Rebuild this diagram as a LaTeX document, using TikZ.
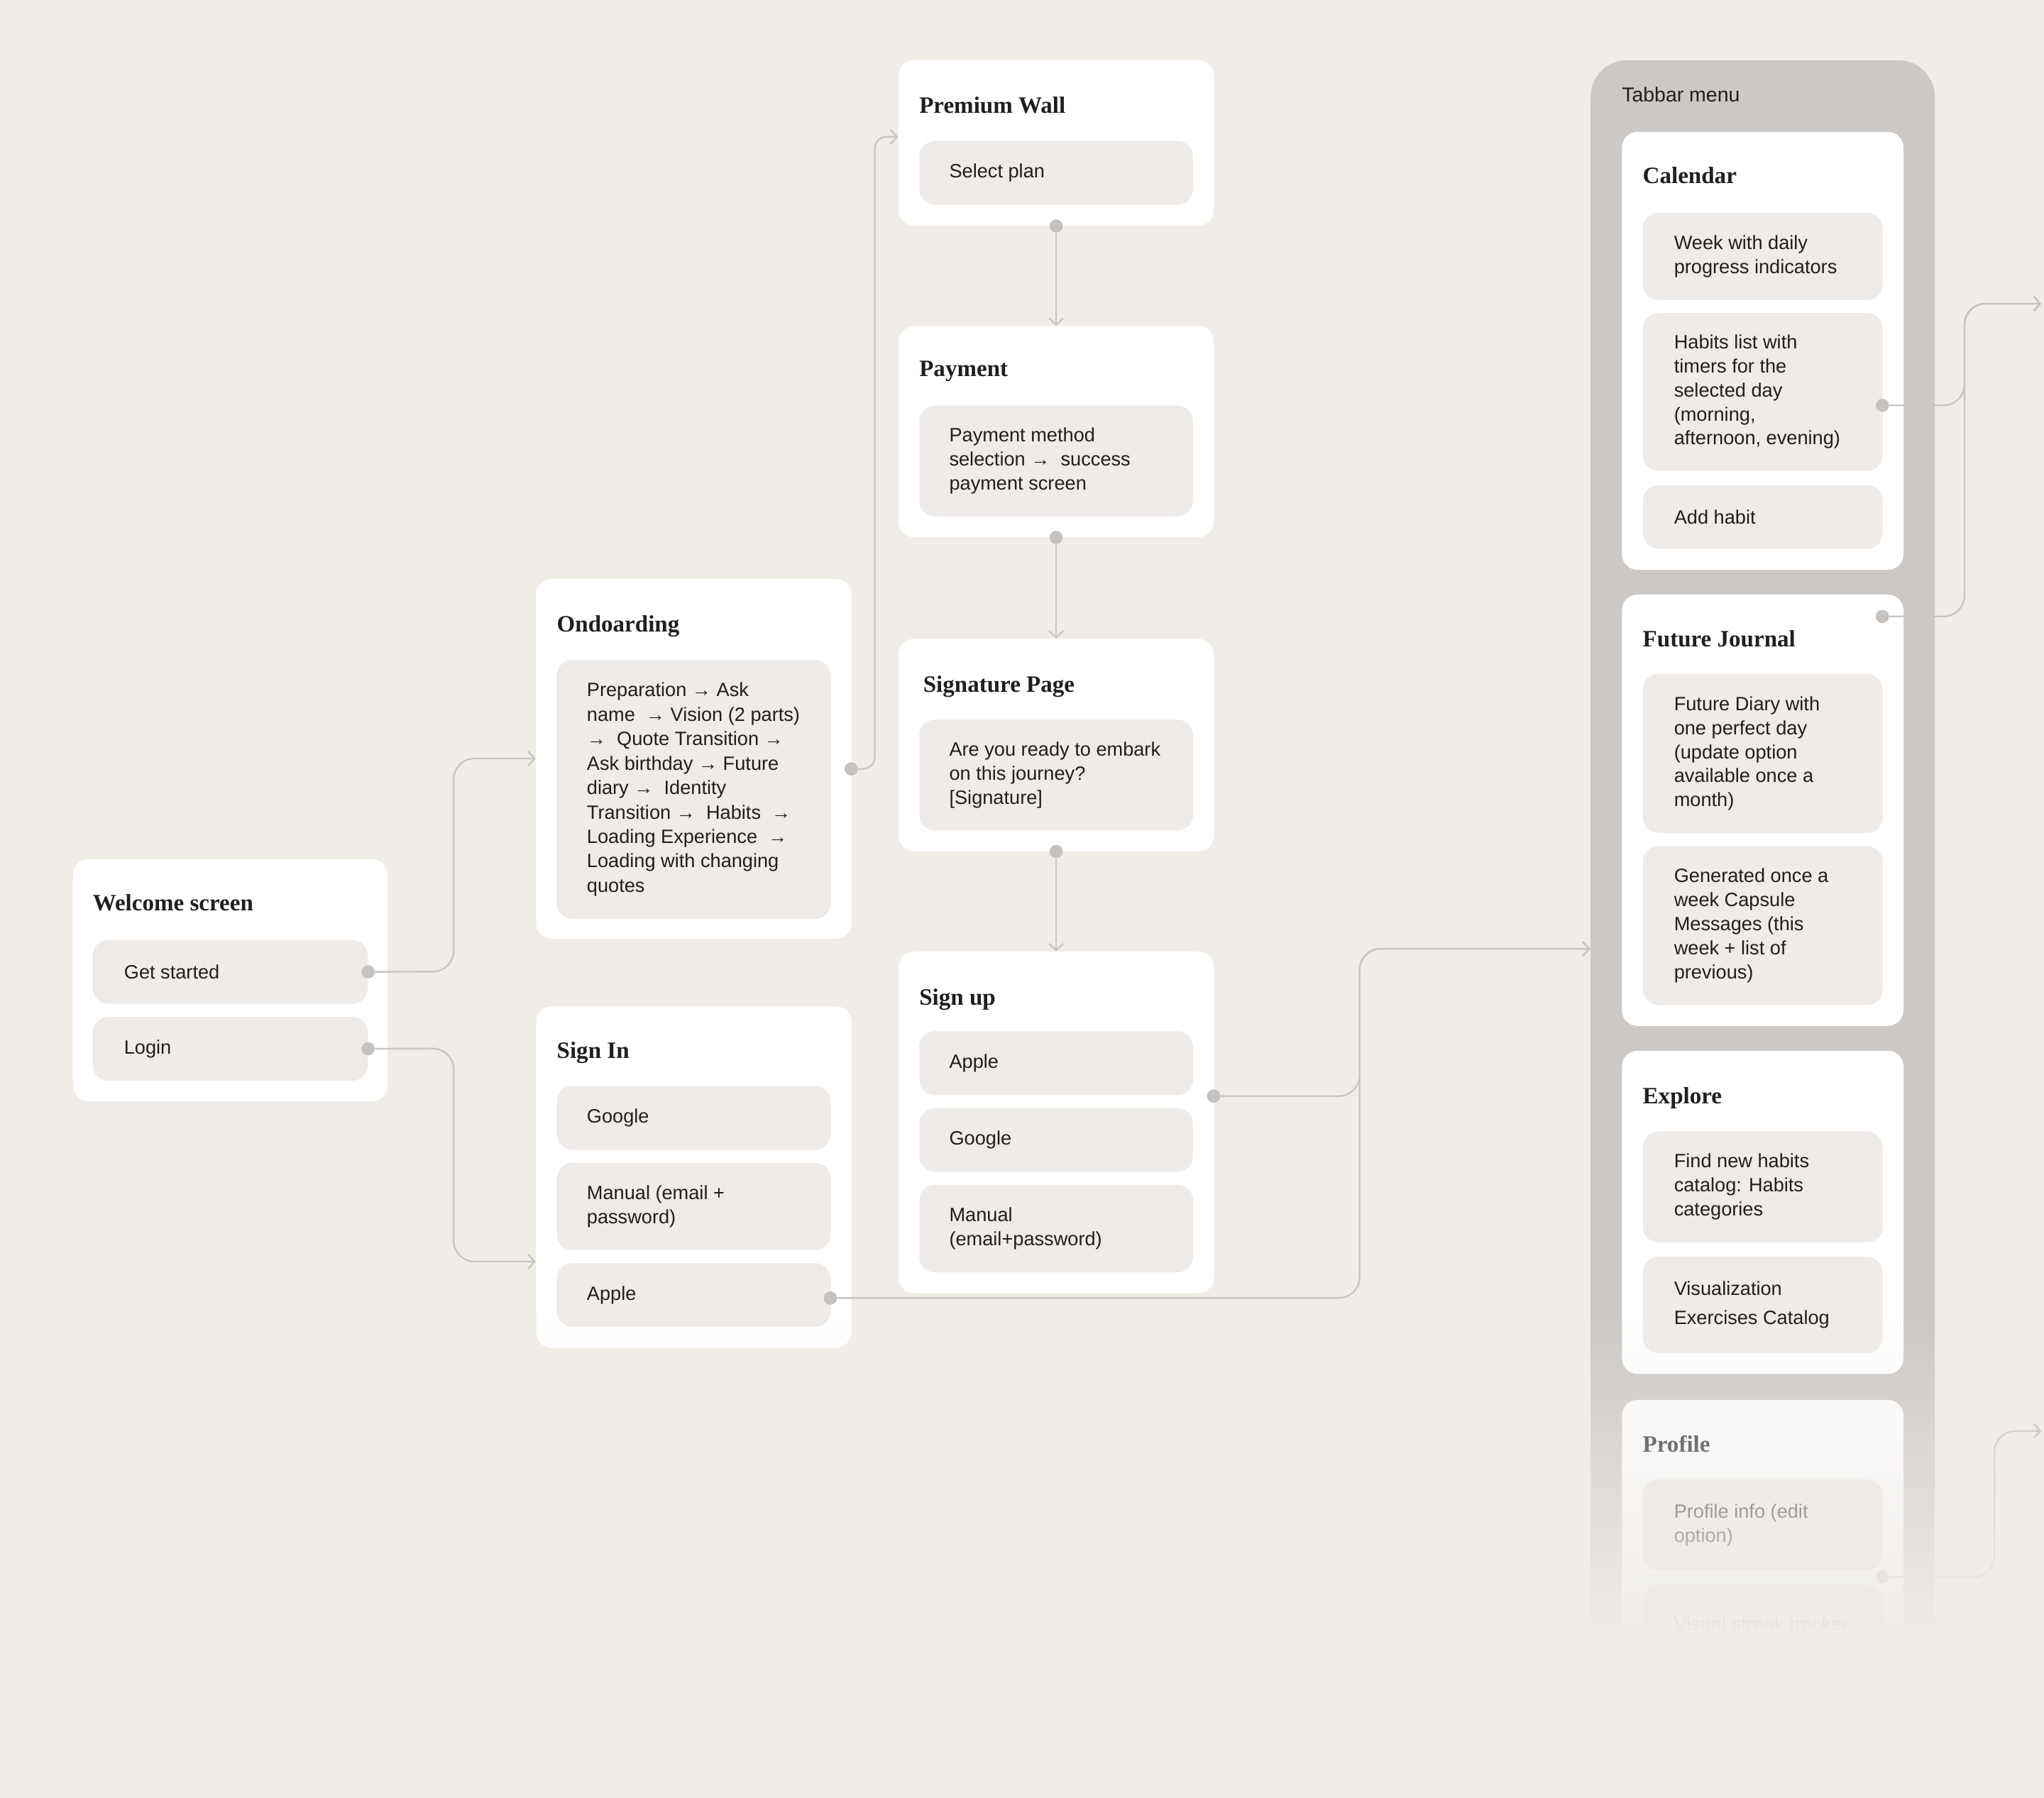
\documentclass[tikz,border=0pt]{standalone}
\usepackage{fontspec}
\setmainfont{Liberation Serif}
\newfontfamily\bodyfont{Liberation Sans}
\usetikzlibrary{arrows.meta,fadings}
\definecolor{bgc}{HTML}{F0EDE9}
\definecolor{itemc}{HTML}{EFEBE8}
\definecolor{tabc}{HTML}{CCC8C6}
\definecolor{linec}{HTML}{C9C5C2}
\definecolor{dotc}{HTML}{C6C2BF}
\definecolor{inkc}{HTML}{1F1F1F}
\begin{document}
\begin{tikzpicture}[x=1pt,y=-1pt,
  card/.style={fill=white, rounded corners=12pt, anchor=north west, inner sep=0pt},
  tabbox/.style={fill=tabc, rounded corners=28pt, anchor=north west, inner sep=0pt},
  itembox/.style={fill=itemc, rounded corners=12pt, anchor=north west, inner sep=0pt},
  head/.style={font=\fontsize{18}{20}\selectfont\bfseries, text=inkc, anchor=base west, inner sep=0pt},
  tabhead/.style={font=\bodyfont\fontsize{15.5}{18}\selectfont, text=inkc, anchor=base west, inner sep=0pt},
  txt/.style={font=\bodyfont\fontsize{14.8}{18.4}\selectfont, text=inkc, anchor=west, align=left, inner sep=0pt},
  dotn/.style={circle, fill=dotc, minimum size=10pt, inner sep=0pt},
  conn/.style={draw=linec, line width=1.3pt, rounded corners=16pt},
  arr/.style={-{Straight Barb[length=5pt,width=11pt]}}
]
\useasboundingbox (0,0) rectangle (1568,1379.6);
\fill[bgc] (0,0) rectangle (1568,1379.6);

% ---------- tabbar container ----------
\node[tabbox, minimum width=264pt, minimum height=1300pt] (tabbar) at (1220,46) {};
\node[tabhead] (tabtitle) at (1244,78) {Tabbar menu};

% ---------- cards ----------
\node[card, minimum width=241pt, minimum height=186pt] (welcome) at (56,659) {};
\node[card, minimum width=242pt, minimum height=276pt] (onb) at (411,444) {};
\node[card, minimum width=242pt, minimum height=262pt] (signin) at (411,772) {};
\node[card, minimum width=242pt, minimum height=127pt] (prem) at (689,46) {};
\node[card, minimum width=242pt, minimum height=162pt] (pay) at (689,250) {};
\node[card, minimum width=242pt, minimum height=163pt] (sign) at (689,490) {};
\node[card, minimum width=242pt, minimum height=262pt] (signup) at (689,730) {};
\node[card, minimum width=216pt, minimum height=336pt] (cal) at (1244,101) {};
\node[card, minimum width=216pt, minimum height=331pt] (fj) at (1244,456) {};
\node[card, minimum width=216pt, minimum height=248pt] (exp) at (1244,806) {};
\node[card, minimum width=216pt, minimum height=260pt] (prof) at (1244,1074) {};

% ---------- headings ----------
\node[head] (welcomeT) at (71,699) {Welcome screen};
\node[head] (onbT) at (427,485) {Ondoarding};
\node[head] (signinT) at (427,812) {Sign In};
\node[head] (premT) at (705,87) {Premium Wall};
\node[head] (payT) at (705,289) {Payment};
\node[head] (signT) at (708,531) {Signature Page};
\node[head] (signupT) at (705,771) {Sign up};
\node[head] (calT) at (1260,141) {Calendar};
\node[head] (fjT) at (1260,496) {Future Journal};
\node[head] (expT) at (1260,847) {Explore};
\node[head] (profT) at (1260,1114) {Profile};

% ---------- items ----------
\node[itembox, minimum width=211pt, minimum height=49pt] (gs) at (71,721) {};
\node[txt] at ([xshift=24pt]gs.west) {Get started};
\node[itembox, minimum width=211pt, minimum height=49pt] (login) at (71,780) {};
\node[txt] at ([xshift=24pt]login.west) {Login};

\node[itembox, minimum width=210pt, minimum height=199pt] (onbi) at (427,506) {};
\node[txt, font=\bodyfont\fontsize{14.8}{18.75}\selectfont] at ([xshift=23pt]onbi.west) {Preparation → Ask\\name \ → Vision (2 parts)\\→ \ Quote Transition →\\Ask birthday → Future\\diary → \ Identity\\Transition → \ Habits \ →\\Loading Experience \ →\\Loading with changing\\quotes};

\node[itembox, minimum width=210pt, minimum height=49pt] (sig) at (427,833) {};
\node[txt] at ([xshift=23pt]sig.west) {Google};
\node[itembox, minimum width=210pt, minimum height=67pt] (sim) at (427,892) {};
\node[txt] at ([xshift=23pt]sim.west) {Manual (email +\\password)};
\node[itembox, minimum width=210pt, minimum height=49pt] (sia) at (427,969) {};
\node[txt] at ([xshift=23pt]sia.west) {Apple};

\node[itembox, minimum width=210pt, minimum height=49pt] (psp) at (705,108) {};
\node[txt] at ([xshift=23pt]psp.west) {Select plan};
\node[itembox, minimum width=210pt, minimum height=85pt] (pmi) at (705,311) {};
\node[txt] at ([xshift=23pt]pmi.west) {Payment method\\selection → \ success\\payment screen};
\node[itembox, minimum width=210pt, minimum height=85pt] (sgi) at (705,552) {};
\node[txt] at ([xshift=23pt]sgi.west) {Are you ready to embark\\on this journey?\\{[Signature]}};

\node[itembox, minimum width=210pt, minimum height=49pt] (sua) at (705,791) {};
\node[txt] at ([xshift=23pt]sua.west) {Apple};
\node[itembox, minimum width=210pt, minimum height=49pt] (sug) at (705,850) {};
\node[txt] at ([xshift=23pt]sug.west) {Google};
\node[itembox, minimum width=210pt, minimum height=67pt] (sum) at (705,909) {};
\node[txt] at ([xshift=23pt]sum.west) {Manual\\(email+password)};

\node[itembox, minimum width=184pt, minimum height=67pt] (c1) at (1260,163) {};
\node[txt] at ([xshift=24pt]c1.west) {Week with daily\\progress indicators};
\node[itembox, minimum width=184pt, minimum height=121pt] (c2) at (1260,240) {};
\node[txt] at ([xshift=24pt]c2.west) {Habits list with\\timers for the\\selected day\\(morning,\\afternoon, evening)};
\node[itembox, minimum width=184pt, minimum height=49pt] (c3) at (1260,372) {};
\node[txt] at ([xshift=24pt]c3.west) {Add habit};

\node[itembox, minimum width=184pt, minimum height=122pt] (f1) at (1260,517) {};
\node[txt] at ([xshift=24pt]f1.west) {Future Diary with\\one perfect day\\(update option\\available once a\\month)};
\node[itembox, minimum width=184pt, minimum height=122pt] (f2) at (1260,649) {};
\node[txt] at ([xshift=24pt]f2.west) {Generated once a\\week Capsule\\Messages (this\\week + list of\\previous)};

\node[itembox, minimum width=184pt, minimum height=85pt] (e1) at (1260,868) {};
\node[txt] at ([xshift=24pt]e1.west) {Find new habits\\catalog: Habits\\categories};
\node[itembox, minimum width=184pt, minimum height=74pt] (e2) at (1260,964) {};
\node[txt, font=\bodyfont\fontsize{14.8}{22}\selectfont] at ([xshift=24pt]e2.west) {Visualization\\Exercises Catalog};

\node[itembox, minimum width=184pt, minimum height=70pt] (p1) at (1260,1135) {};
\node[txt] at ([xshift=24pt]p1.west) {Profile info (edit\\option)};
\node[itembox, minimum width=184pt, minimum height=60pt] (p2) at (1260,1216) {};
\node[txt] at ([xshift=24pt]p2.west) {Visual streak tracker};

% ---------- dots ----------
\node[dotn] (gsdot) at (gs.east) {};
\node[dotn] (logdot) at (login.east) {};
\node[dotn] (onbdot) at (653,590) {};
\node[dotn] (siadot) at (637,996) {};
\node[dotn] (pwdot) at (prem.south) {};
\node[dotn] (paydot) at (pay.south) {};
\node[dotn] (sgdot) at (sign.south) {};
\node[dotn] (sudot) at (931,841) {};
\node[dotn] (c2dot) at (1444,311) {};
\node[dotn] (fjdot) at (1444,473) {};
\node[dotn] (p1dot) at (1444,1210) {};

% ---------- arrow end points ----------
\coordinate (onbin) at (411,582);
\coordinate (siin) at (411,968);
\coordinate (pwin) at (689,105);
\coordinate (tabin) at (1220,728);
\coordinate (out1) at (1566,233);
\coordinate (out2) at (1566,1098);

% ---------- connectors ----------
\begin{scope}[on background layer/.style={}]
\draw[conn,arr] (gsdot) -- (348,745.5) |- (onbin);
\draw[conn,arr] (logdot) -- (348,804.5) |- (siin);
\draw[conn,arr,rounded corners=9pt] (onbdot) -- (671,590) |- (pwin);
\draw[conn,arr] (pwdot) -- (pay.north);
\draw[conn,arr] (paydot) -- (sign.north);
\draw[conn,arr] (sgdot) -- (signup.north);
\draw[conn,arr] (sudot) -- (1043,841) |- (tabin);
\draw[conn,arr] (siadot) -- (1043,996) |- (tabin);
\draw[conn,arr] (c2dot) -- (1507,311) |- (out1);
\draw[conn,arr] (fjdot) -- (1507,473) |- (out1);
\draw[conn,arr] (p1dot) -- (1530,1210) |- (out2);
\end{scope}
% redraw dots on top
\foreach \d in {gsdot,logdot,onbdot,siadot,pwdot,paydot,sgdot,sudot,c2dot,fjdot,p1dot}
  \fill[dotc] (\d.center) circle (5pt);

% ---------- fade at the bottom ----------
\fill[bgc, path fading=north] (0,1010) rectangle (1568,1256);
\fill[bgc] (0,1255) rectangle (1568,1379.6);
\end{tikzpicture}
\end{document}
